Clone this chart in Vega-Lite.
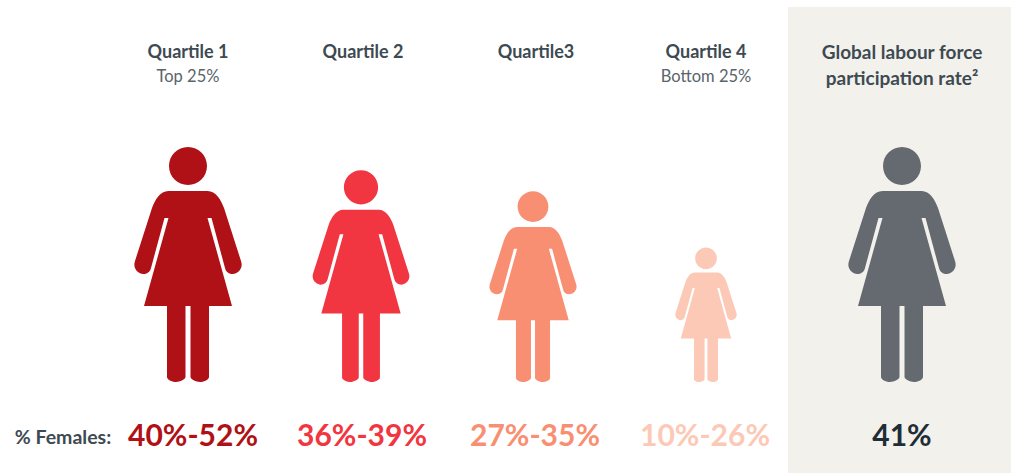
{"$schema":"https://vega.github.io/schema/vega-lite/v6.json","width":1011,"height":473,"autosize":{"type":"fit","contains":"padding"},"padding":0,"background":"white","view":{"stroke":null},
"datasets":{
"panel":[{"panelStart":0,"panelEnd":1,"top":0,"bottom":5}],
"figures":[{"group":"Quartile 1","column":1,"line":3},{"group":"Quartile 2","column":2,"line":3},{"group":"Quartile 3","column":3,"line":3},{"group":"Quartile 4","column":4,"line":3},{"group":"Global","column":5,"line":3}],
"heads":[{"column":0,"line":4,"text":"% Females:"},{"column":1,"line":1,"text":"Quartile 1"},{"column":2,"line":1,"text":"Quartile 2"},{"column":3,"line":1,"text":"Quartile3"},{"column":4,"line":1,"text":"Quartile 4"},{"column":5,"line":1,"text":"Global labour force"},{"column":5,"line":2,"text":"participation rate²"}],
"subs":[{"column":1,"line":2,"text":"Top 25%"},{"column":4,"line":2,"text":"Bottom 25%"}],
"values":[{"group":"Quartile 1","column":1,"line":4,"text":"40%-52%"},{"group":"Quartile 2","column":2,"line":4,"text":"36%-39%"},{"group":"Quartile 3","column":3,"line":4,"text":"27%-35%"},{"group":"Quartile 4","column":4,"line":4,"text":"10%-26%"},{"group":"Global","column":5,"line":4,"text":"41%"}]
},
"layer":[
{"data":{"name":"panel"},"mark":{"type":"rect","color":"#F3F1EC"},"encoding":{
"x":{"field":"panelStart","type":"quantitative","axis":null,"scale":{"domain":[0,1],"range":[788,1011]}},"x2":{"field":"panelEnd"},
"y":{"field":"top","type":"quantitative","axis":null,"scale":{"domain":[0,1,2,3,4,5],"range":[7,51,77,382,436,473]}},"y2":{"field":"bottom"}}},
{"data":{"name":"figures"},"mark":{"type":"point","filled":true,"opacity":1,"strokeWidth":0,"shape":"M0,-235 C10.5,-235 19,-226.5 19,-216 C19,-205.5 10.5,-197 0,-197 C-10.5,-197 -19,-205.5 -19,-216 C-19,-226.5 -10.5,-235 0,-235 Z M-19.5,-191 L19.5,-191 C28,-191 33,-182 36,-174 L53,-121 C56,-112 48,-108 45,-108 C41,-108 38,-110 37,-114 L23.5,-164 L19.5,-164 L44,-76 L21,-76 L21,-5 C21,-2 15,0 12,0 C8,0 2.5,-3 2.5,-5 L2.5,-76 L-2.5,-76 L-2.5,-5 C-2.5,-3 -8,0 -12,0 C-15,0 -21,-2 -21,-5 L-21,-76 L-44,-76 L-19.5,-164 L-23.5,-164 L-37,-114 C-38,-110 -41,-108 -45,-108 C-48,-108 -56,-112 -53,-121 L-36,-174 C-33,-182 -28,-191 -19.5,-191 Z"},"encoding":{
"x":{"field":"column","type":"quantitative","axis":null,"scale":{"domain":[1,2,3,4,5],"range":[188,361,533,706,902]}},
"y":{"field":"line","type":"quantitative","axis":null},
"size":{"field":"column","type":"quantitative","legend":null,"scale":{"domain":[1,2,3,4,5],"range":[4,3.25,2.637,1.312,4]}},
"color":{"field":"group","type":"nominal","legend":null,"scale":{"domain":["Quartile 1","Quartile 2","Quartile 3","Quartile 4","Global"],"range":["#B01116","#F13641","#F98F72","#FCC9B6","#656A71"]}}}},
{"data":{"name":"heads"},"mark":{"type":"text","font":"Lato","fontWeight":"bold","color":"#3E4A52","baseline":"middle","dy":1.5},"encoding":{
"x":{"field":"column","type":"quantitative","axis":null,"scale":{"domain":[0,1,2,3,4,5],"range":[63,188,363,536,706,902]}},
"y":{"field":"line","type":"quantitative","axis":null},"text":{"field":"text"},
"size":{"field":"column","type":"quantitative","legend":null,"scale":{"domain":[0,1,4,5],"range":[19.5,18,18,19]}}}},
{"data":{"name":"subs"},"mark":{"type":"text","font":"Lato","fontSize":16.5,"color":"#5A646B","baseline":"middle"},"encoding":{
"x":{"field":"column","type":"quantitative","axis":null,"scale":{"domain":[1,4],"range":[188,706]}},
"y":{"field":"line","type":"quantitative","axis":null},"text":{"field":"text"}}},
{"data":{"name":"values"},"mark":{"type":"text","font":"Lato","fontWeight":"bold","fontSize":30,"baseline":"middle","dy":1},"encoding":{
"x":{"field":"column","type":"quantitative","axis":null,"scale":{"domain":[1,2,3,4,5],"range":[193,362,535,705,902]}},
"y":{"field":"line","type":"quantitative","axis":null},"text":{"field":"text"},
"color":{"field":"group","type":"nominal","legend":null,"scale":{"domain":["Quartile 1","Quartile 2","Quartile 3","Quartile 4","Global"],"range":["#B01116","#F13641","#F98F72","#FCC9B6","#1F2D36"]}}}}
],
"resolve":{"scale":{"x":"independent","color":"independent","size":"independent"}}}
